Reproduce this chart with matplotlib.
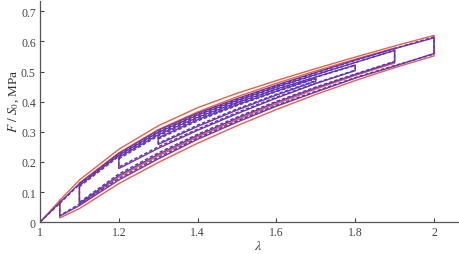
import matplotlib
matplotlib.use("Agg")
import matplotlib.pyplot as plt

# stretch grid shared by every branch
lam = [1.05, 1.1, 1.2, 1.3, 1.4, 1.5, 1.6, 1.7, 1.8, 1.9, 2.0]

# loop limits (nested cycles around lambda = 1.5)
lam_min = [1.05, 1.1, 1.2, 1.3]
lam_max = [2.0, 1.9, 1.8, 1.7]

# initial loading from the origin
lam_start = [1.0, 1.05]
exp_start = [0.0, 0.065]
mod_start = [0.0, 0.062]
red_start = [0.0, 0.072]

# experiment (solid purple): upper / lower branch of each loop, on lam[i0:i1]
exp_up = [
    [0.065, 0.128, 0.228, 0.305, 0.362, 0.41, 0.455, 0.497, 0.538, 0.576, 0.612],
    [0.122, 0.222, 0.298, 0.356, 0.404, 0.449, 0.49, 0.53, 0.57],
    [0.215, 0.29, 0.348, 0.397, 0.442, 0.482, 0.522],
    [0.28, 0.34, 0.39, 0.435, 0.478],
]
exp_lo = [
    [0.02, 0.055, 0.14, 0.21, 0.275, 0.332, 0.385, 0.432, 0.478, 0.518, 0.56],
    [0.062, 0.155, 0.225, 0.288, 0.345, 0.398, 0.446, 0.49, 0.532],
    [0.178, 0.245, 0.305, 0.36, 0.412, 0.46, 0.503],
    [0.258, 0.318, 0.372, 0.422, 0.468],
]

# model (dashed blue)
mod_up = [
    [0.062, 0.125, 0.224, 0.3, 0.358, 0.407, 0.452, 0.495, 0.537, 0.577, 0.615],
    [0.118, 0.218, 0.294, 0.352, 0.401, 0.447, 0.489, 0.53, 0.57],
    [0.21, 0.286, 0.344, 0.394, 0.44, 0.481, 0.52],
    [0.276, 0.336, 0.387, 0.433, 0.476],
]
mod_lo = [
    [0.022, 0.06, 0.145, 0.215, 0.279, 0.336, 0.388, 0.435, 0.48, 0.52, 0.558],
    [0.066, 0.16, 0.23, 0.292, 0.349, 0.401, 0.449, 0.492, 0.534],
    [0.183, 0.25, 0.309, 0.364, 0.415, 0.462, 0.505],
    [0.262, 0.322, 0.376, 0.425, 0.47],
]

# second model (solid red), outer loop and one inner loop
red_up = [
    [0.072, 0.14, 0.242, 0.32, 0.38, 0.428, 0.47, 0.51, 0.548, 0.585, 0.62],
    [0.13, 0.23, 0.307, 0.366, 0.416, 0.461, 0.502, 0.541, 0.578],
]
red_lo = [
    [0.014, 0.045, 0.128, 0.198, 0.262, 0.32, 0.374, 0.424, 0.47, 0.513, 0.552],
    [0.058, 0.15, 0.22, 0.283, 0.34, 0.393, 0.442, 0.487, 0.528],
]

x_ticks = [1, 1.2, 1.4, 1.6, 1.8, 2]
x_tick_labels = ["1", "1.2", "1.4", "1.6", "1.8", "2"]
y_ticks = [0, 0.1, 0.2, 0.3, 0.4, 0.5, 0.6, 0.7]
y_tick_labels = ["0", "0.1", "0.2", "0.3", "0.4", "0.5", "0.6", "0.7"]

plt.rcParams["font.family"] = ["Liberation Serif", "DejaVu Serif"]
plt.rcParams["mathtext.fontset"] = "stix"


def draw_loops(ax, ups, los, start_x, start_y, **kw):
    ax.plot(start_x, start_y, **kw)
    for k in range(len(ups)):
        i0 = lam.index(lam_min[k])
        i1 = lam.index(lam_max[k]) + 1
        xs = lam[i0:i1]
        # loading branch, relaxation at lam_max, unloading back, relaxation at lam_min
        px = xs + xs[::-1] + [xs[0]]
        py = ups[k] + los[k][::-1] + [ups[k][0]]
        ax.plot(px, py, **kw)


fig = plt.figure(figsize=(4.6, 2.55), dpi=100)
ax = fig.add_axes([0.087, 0.125, 0.913, 0.868])

draw_loops(ax, red_up, red_lo, lam_start, red_start, color="#e8604a", lw=1.0)
draw_loops(ax, exp_up, exp_lo, lam_start, exp_start, color="#8a2c8c", lw=1.0)
draw_loops(ax, mod_up, mod_lo, lam_start, mod_start, color="#3b3fd6", lw=1.0,
           ls=(0, (2.5, 1.5)))

ax.set_xlim(1, 2.066)
ax.set_ylim(0, 0.735)
ax.set_xticks(x_ticks, x_tick_labels)
ax.set_yticks(y_ticks, y_tick_labels)
ax.tick_params(direction="in", length=3, width=0.8, labelsize=8.5,
               colors="#444444", pad=3)
for s in ["top", "right"]:
    ax.spines[s].set_visible(False)
for s in ["left", "bottom"]:
    ax.spines[s].set_color("#555555")
    ax.spines[s].set_linewidth(0.9)

ax.set_xlabel(r"$\lambda$", fontsize=10, color="#333333")
ax.xaxis.set_label_coords(0.52, -0.075)
ax.set_ylabel(r"$F\ /\ S_0$, MPa", fontsize=9.5, color="#333333")
ax.yaxis.set_label_coords(-0.045, 0.55)

fig.savefig("out.png", dpi=100)
